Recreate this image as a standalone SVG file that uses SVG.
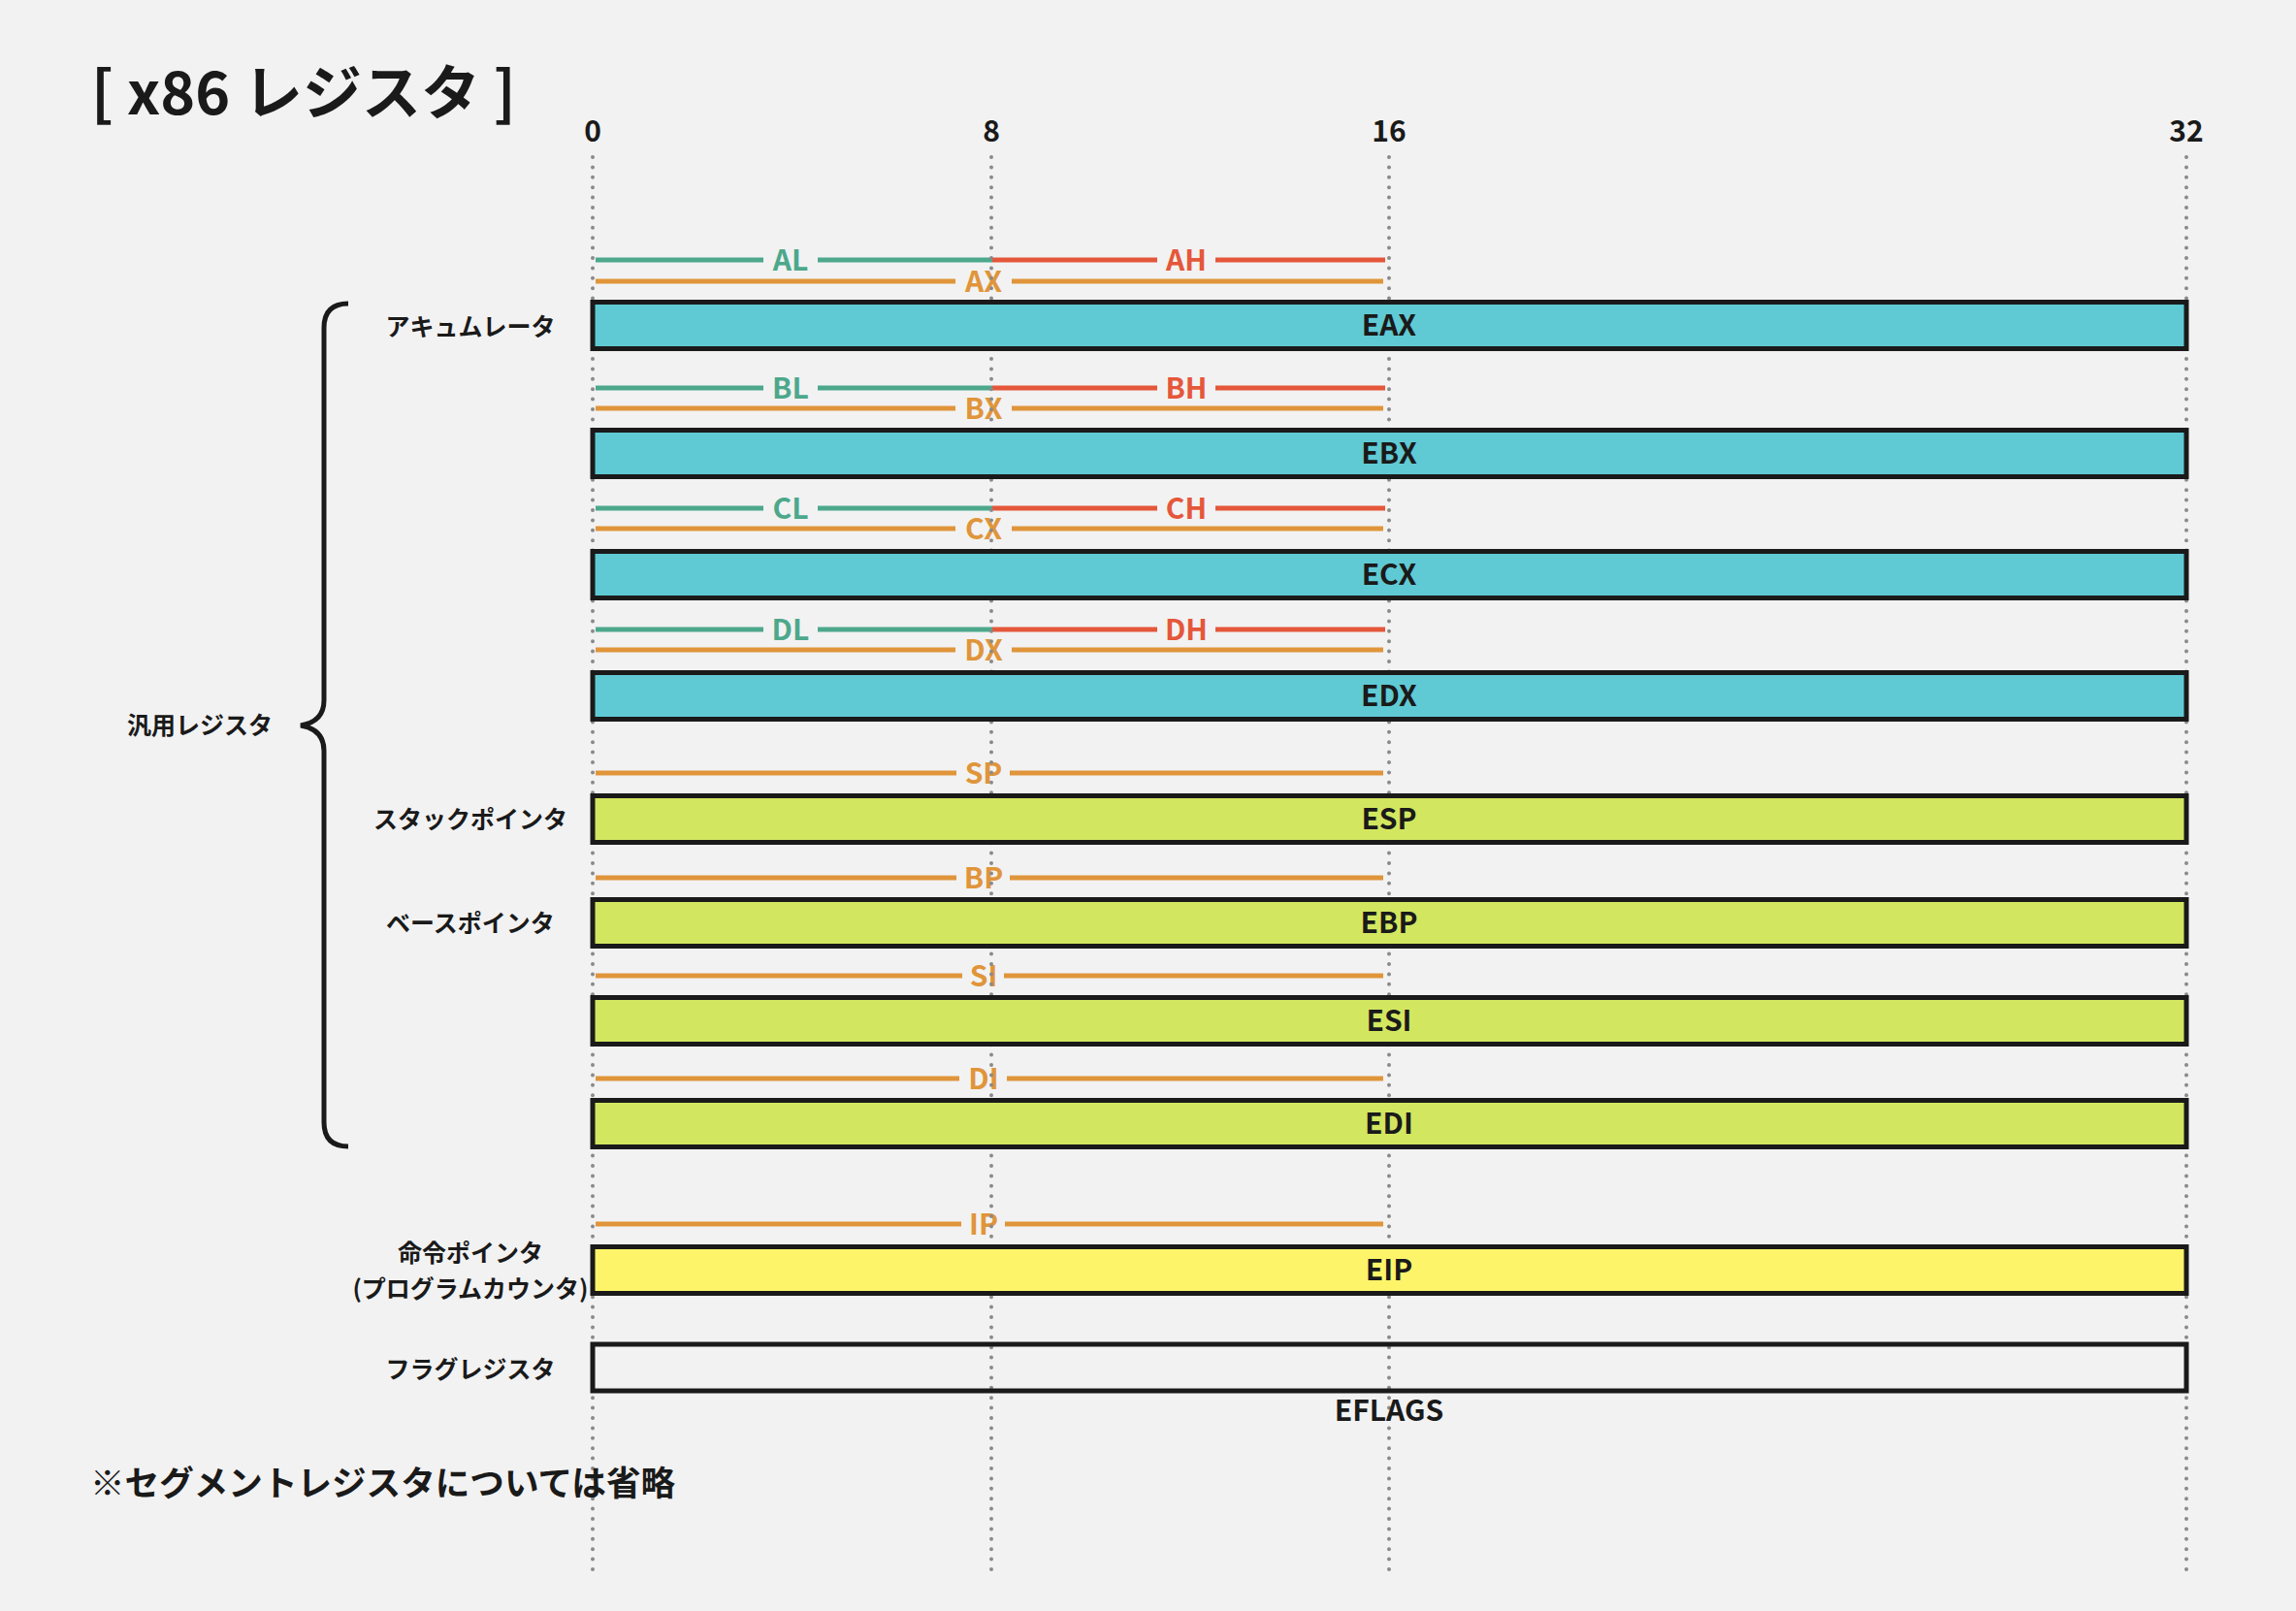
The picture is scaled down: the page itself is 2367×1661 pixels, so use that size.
<svg xmlns="http://www.w3.org/2000/svg" width="2367" height="1661" viewBox="0 0 2367 1661">
<defs>
<style>
text{font-family:"Noto Sans CJK JP","Noto Sans",sans-serif;font-weight:700;fill:#1a1a1a}
.guide{stroke:#8a8a8a;stroke-width:4;stroke-linecap:round;stroke-dasharray:0 10.4;fill:none}
.reg{stroke:#1a1a1a;stroke-width:5}
.cyan{fill:#5FCAD4}
.lime{fill:#D3E660}
.yel{fill:#FEF46A}
.none{fill:none}
.low{stroke:#4DA88B;stroke-width:5}
.high{stroke:#E5573A;stroke-width:5}
.word{stroke:#E0953A;stroke-width:5}
.tl{fill:#4DA88B;font-size:30px;text-anchor:middle}
.th{fill:#E5573A;font-size:30px;text-anchor:middle}
.tw{fill:#E0953A;font-size:30px;text-anchor:middle}
.rn{font-size:30px;text-anchor:middle}
.side{font-size:25px;text-anchor:middle}
.axis{font-size:30px;text-anchor:middle}
</style>
</defs>
<rect x="0" y="0" width="2367" height="1661" fill="#F2F2F2"/>
<text id="title" x="94" y="118" style="font-size:61px">[ x86 レジスタ ]</text>
<g id="axis">
<text class="axis" x="611" y="146">0</text>
<text class="axis" x="1022" y="146">8</text>
<text class="axis" x="1432" y="146">16</text>
<text class="axis" x="2254" y="146">32</text>
</g>
<g id="sub-registers">
<g id="ax-parts">
<line class="low" x1="614" y1="268" x2="787" y2="268"/><line class="low" x1="843" y1="268" x2="1023" y2="268"/><text class="tl" x="815" y="279">AL</text>
<line class="high" x1="1023" y1="268" x2="1193" y2="268"/><line class="high" x1="1253" y1="268" x2="1428" y2="268"/><text class="th" x="1223" y="279">AH</text>
<line class="word" x1="614" y1="290" x2="985" y2="290"/><line class="word" x1="1043" y1="290" x2="1426" y2="290"/><text class="tw" x="1014" y="301">AX</text>
</g>
<g id="bx-parts">
<line class="low" x1="614" y1="400" x2="787" y2="400"/><line class="low" x1="843" y1="400" x2="1023" y2="400"/><text class="tl" x="815" y="411">BL</text>
<line class="high" x1="1023" y1="400" x2="1193" y2="400"/><line class="high" x1="1253" y1="400" x2="1428" y2="400"/><text class="th" x="1223" y="411">BH</text>
<line class="word" x1="614" y1="421" x2="985" y2="421"/><line class="word" x1="1043" y1="421" x2="1426" y2="421"/><text class="tw" x="1014" y="432">BX</text>
</g>
<g id="cx-parts">
<line class="low" x1="614" y1="524" x2="787" y2="524"/><line class="low" x1="843" y1="524" x2="1023" y2="524"/><text class="tl" x="815" y="535">CL</text>
<line class="high" x1="1023" y1="524" x2="1193" y2="524"/><line class="high" x1="1253" y1="524" x2="1428" y2="524"/><text class="th" x="1223" y="535">CH</text>
<line class="word" x1="614" y1="545" x2="985" y2="545"/><line class="word" x1="1043" y1="545" x2="1426" y2="545"/><text class="tw" x="1014" y="556">CX</text>
</g>
<g id="dx-parts">
<line class="low" x1="614" y1="649" x2="787" y2="649"/><line class="low" x1="843" y1="649" x2="1023" y2="649"/><text class="tl" x="815" y="660">DL</text>
<line class="high" x1="1023" y1="649" x2="1193" y2="649"/><line class="high" x1="1253" y1="649" x2="1428" y2="649"/><text class="th" x="1223" y="660">DH</text>
<line class="word" x1="614" y1="670" x2="985" y2="670"/><line class="word" x1="1043" y1="670" x2="1426" y2="670"/><text class="tw" x="1014" y="681">DX</text>
</g>
<g id="sp-part"><line class="word" x1="614" y1="797" x2="986" y2="797"/><line class="word" x1="1041" y1="797" x2="1426" y2="797"/><text class="tw" x="1014" y="808">SP</text></g>
<g id="bp-part"><line class="word" x1="614" y1="905" x2="986" y2="905"/><line class="word" x1="1041" y1="905" x2="1426" y2="905"/><text class="tw" x="1014" y="916">BP</text></g>
<g id="si-part"><line class="word" x1="614" y1="1006" x2="992" y2="1006"/><line class="word" x1="1035" y1="1006" x2="1426" y2="1006"/><text class="tw" x="1014" y="1017">SI</text></g>
<g id="di-part"><line class="word" x1="614" y1="1112" x2="989" y2="1112"/><line class="word" x1="1038" y1="1112" x2="1426" y2="1112"/><text class="tw" x="1014" y="1123">DI</text></g>
<g id="ip-part"><line class="word" x1="614" y1="1262" x2="991" y2="1262"/><line class="word" x1="1036" y1="1262" x2="1426" y2="1262"/><text class="tw" x="1014" y="1273">IP</text></g>
</g>
<g id="connectors">
<line class="guide" x1="611" y1="162" x2="611" y2="1620"/>
<line class="guide" x1="1022" y1="162" x2="1022" y2="1620"/>
<line class="guide" x1="1432" y1="162" x2="1432" y2="1618"/>
<line class="guide" x1="2254" y1="162" x2="2254" y2="1618"/>
<path id="brace" d="M359,313 Q334,313 334,338 L334,722 Q334,744 310,748 Q334,752 334,774 L334,1157 Q334,1182 359,1182" fill="none" stroke="#1a1a1a" stroke-width="5"/>
</g>
<g id="eax"><rect class="reg cyan" x="611" y="311.5" width="1643" height="48"/><text class="rn" x="1432" y="346">EAX</text></g>
<g id="ebx"><rect class="reg cyan" x="611" y="443.5" width="1643" height="48"/><text class="rn" x="1432" y="478">EBX</text></g>
<g id="ecx"><rect class="reg cyan" x="611" y="568.5" width="1643" height="48"/><text class="rn" x="1432" y="603">ECX</text></g>
<g id="edx"><rect class="reg cyan" x="611" y="693.5" width="1643" height="48"/><text class="rn" x="1432" y="728">EDX</text></g>
<g id="esp"><rect class="reg lime" x="611" y="820.5" width="1643" height="48"/><text class="rn" x="1432" y="855">ESP</text></g>
<g id="ebp"><rect class="reg lime" x="611" y="927.5" width="1643" height="48"/><text class="rn" x="1432" y="962">EBP</text></g>
<g id="esi"><rect class="reg lime" x="611" y="1028.5" width="1643" height="48"/><text class="rn" x="1432" y="1063">ESI</text></g>
<g id="edi"><rect class="reg lime" x="611" y="1134.5" width="1643" height="48"/><text class="rn" x="1432" y="1169">EDI</text></g>
<g id="eip"><rect class="reg yel" x="611" y="1285.5" width="1643" height="48"/><text class="rn" x="1432" y="1320">EIP</text></g>
<g id="eflags"><rect class="reg none" x="611" y="1386" width="1643" height="48"/><text class="rn" x="1432" y="1465">EFLAGS</text></g>
<g id="labels">
<text id="lbl-acc" class="side" x="485" y="345.5">アキュムレータ</text>
<text id="lbl-sp" class="side" x="485" y="854">スタックポインタ</text>
<text id="lbl-bp" class="side" x="485" y="961">ベースポインタ</text>
<text id="lbl-gp" class="side" x="206" y="757">汎用レジスタ</text>
<text id="lbl-ip" class="side" x="485" y="1300.5">命令ポインタ</text>
<text id="lbl-pc" class="side" x="485" y="1337.5">(プログラムカウンタ)</text>
<text id="lbl-flags" class="side" x="485" y="1420.5">フラグレジスタ</text>
</g>
<text id="note" x="93" y="1542" style="font-size:35.6px">※セグメントレジスタについては省略</text>
</svg>
